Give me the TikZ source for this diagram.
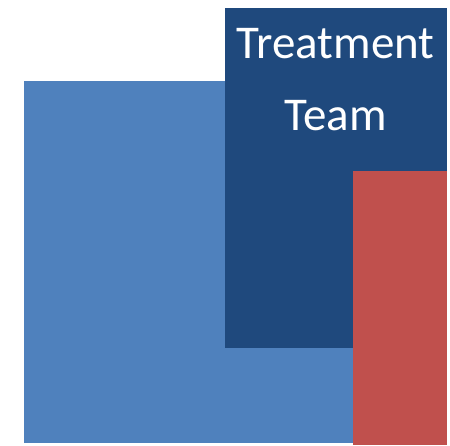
\documentclass[tikz,border=0pt]{standalone}
\usepackage{fontspec}
\setmainfont{Carlito}
\definecolor{lightblue}{HTML}{4F81BD}
\definecolor{darkblue}{HTML}{1F497D}
\definecolor{redbox}{HTML}{C0504D}
\begin{document}
\begin{tikzpicture}[x=1pt,y=-1pt,
  box/.style={draw=none,inner sep=0pt,outer sep=0pt,anchor=north west},
  label/.style={text=white,font=\fontsize{47}{56}\selectfont,anchor=base,inner sep=0pt}]
\useasboundingbox (0,0) rectangle (450,445);
\node[box,fill=lightblue,minimum width=330pt,minimum height=362pt] (lb) at (24,81) {};
\node[box,fill=darkblue,minimum width=222pt,minimum height=340.5pt] (db) at (225,7.5) {};
\node[box,fill=redbox,minimum width=94pt,minimum height=274pt] (rb) at (353,171) {};
\node[label] (t1) at (335.5,58) {Treatment};
\node[label] (t2) at (335.5,130) {Team};
\end{tikzpicture}
\end{document}
